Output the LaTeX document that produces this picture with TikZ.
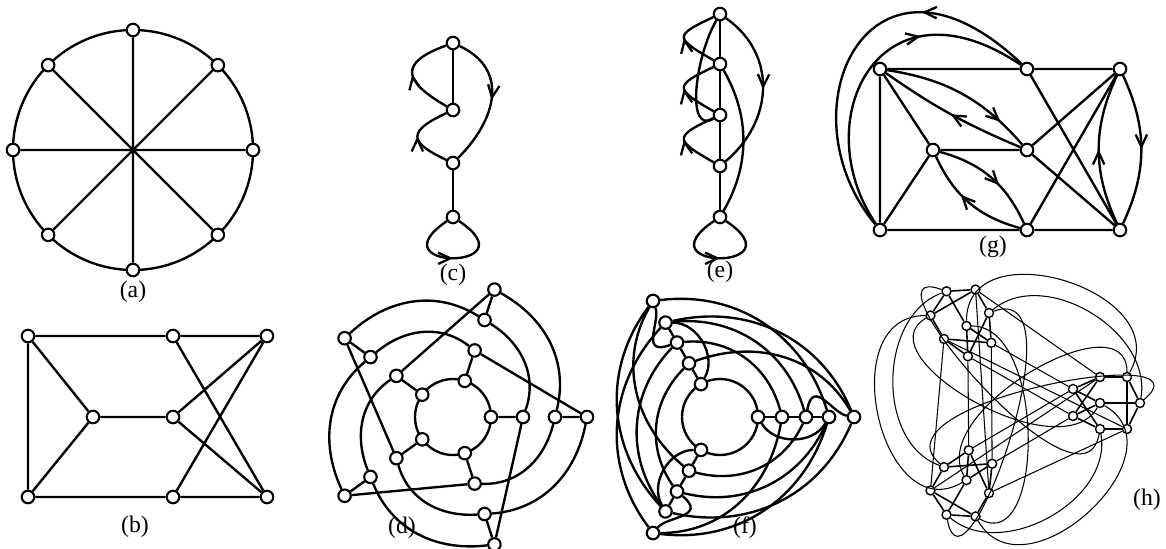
\documentclass[tikz,border=0pt]{standalone}
\usepackage{fontspec}
\setmainfont{Liberation Serif}
\usetikzlibrary{arrows.meta,decorations.markings}

\tikzset{
  vtx/.style={circle, draw, fill=white, line width=1.2pt, inner sep=0pt, minimum size=0.25cm},
  hvtx/.style={circle, draw, fill=white, line width=0.8pt, inner sep=0pt, minimum size=0.18cm},
  edge/.style={line width=1.35pt},
  hedge/.style={line width=0.9pt},
  hcurve/.style={line width=0.6pt},
  midarrow/.style={postaction={decorate}, decoration={markings,
      mark=at position #1 with {\arrow{Straight Barb[length=7pt,width=6.5pt,line width=1.3pt]}}}},
  midarrow/.default=0.5,
  caption/.style={font=\fontsize{13.5}{16}\selectfont}
}

\begin{document}
\begin{tikzpicture}[x=0.02cm, y=0.02cm]
  \useasboundingbox (0,0) rectangle (1166,-548);

  % (a)
  \begin{scope}[shift={(133,-150)}]
    \draw[edge] (0,0) circle (120);
    \foreach \a in {0,45,...,315}
      \node[vtx] (a\a) at (\a:120) {};
    \draw[edge] (a0) -- (a180) (a45) -- (a225) (a90) -- (a270) (a135) -- (a315);
  \end{scope}
  \node[caption] (capa) at (133,-292) {(a)};

  % (b)
  \node[vtx] (b1) at (28,-336) {};
  \node[vtx] (b2) at (173,-336) {};
  \node[vtx] (b3) at (267,-336) {};
  \node[vtx] (b4) at (93,-417) {};
  \node[vtx] (b5) at (173,-417) {};
  \node[vtx] (b6) at (28,-497) {};
  \node[vtx] (b7) at (173,-497) {};
  \node[vtx] (b8) at (267,-497) {};
  \draw[edge] (b1) -- (b2) -- (b3) (b6) -- (b7) -- (b8) (b1) -- (b6)
    (b1) -- (b4) -- (b6) (b4) -- (b5) (b5) -- (b3) (b5) -- (b8)
    (b2) -- (b8) (b7) -- (b3);
  \node[caption] (capb) at (135,-527) {(b)};

  % (c)
  \node[vtx] (c1) at (453,-43) {};
  \node[vtx] (c2) at (453,-110) {};
  \node[vtx] (c3) at (453,-163) {};
  \node[vtx] (c4) at (453,-217) {};
  \draw[edge] (c1) -- (c2) (c3) -- (c4);
  \draw[edge, midarrow] (c2) .. controls +(150:58) and +(200:58) .. (c1);
  \draw[edge, midarrow] (c3) .. controls +(155:50) and +(205:50) .. (c2);
  \draw[edge, midarrow] (c1) .. controls +(-25:62) and +(45:62) .. (c3);
  \draw[edge, midarrow] (c4) .. controls +(-146:96) and +(-34:96) .. (c4);
  \node[caption] (capc) at (453,-275) {(c)};

  % (e)
  \foreach \i/\y in {1/14,2/64,3/115,4/166,5/217}
    \node[vtx] (e\i) at (720,-\y) {};
  \draw[edge] (e1) -- (e2) -- (e3) -- (e4) -- (e5);
  \draw[edge, midarrow] (e2) .. controls +(150:52) and +(205:52) .. (e1);
  \draw[edge, midarrow] (e3) .. controls +(150:52) and +(205:52) .. (e2);
  \draw[edge, midarrow] (e4) .. controls +(150:52) and +(205:52) .. (e3);
  \draw[edge, midarrow] (e1) .. controls +(-35:70) and +(40:70) .. (e4);
  \draw[edge] (e1) .. controls +(-120:50) and +(-150:40) .. (e3);
  \draw[edge] (e2) .. controls +(-60:60) and +(60:60) .. (e5);
  \draw[edge, midarrow] (e5) .. controls +(-146:96) and +(-34:96) .. (e5);
  \node[caption] (cape) at (720,-272) {(e)};

  % (g)
  \node[vtx] (g1) at (880,-69) {};
  \node[vtx] (g2) at (1027,-69) {};
  \node[vtx] (g3) at (1120,-69) {};
  \node[vtx] (g4) at (933,-150) {};
  \node[vtx] (g5) at (1027,-150) {};
  \node[vtx] (g6) at (880,-230) {};
  \node[vtx] (g7) at (1027,-230) {};
  \node[vtx] (g8) at (1120,-230) {};
  \draw[edge] (g1) -- (g2) -- (g3) (g6) -- (g7) -- (g8) (g1) -- (g6)
    (g1) -- (g4) -- (g6) (g4) -- (g5) (g2) -- (g8) (g5) -- (g3)
    (g5) -- (g8) (g7) -- (g3);
  \draw[edge, midarrow=0.8] (g1) to[bend left=20] (g5);
  \draw[edge, midarrow] (g5) to[bend left=6] (g1);
  \draw[edge, midarrow=0.6] (g4) to[bend left=25] (g7);
  \draw[edge, midarrow=0.6] (g7) to[bend left=25] (g4);
  \draw[edge, midarrow] (g3) to[bend left=25] (g8);
  \draw[edge, midarrow] (g8) to[bend left=25] (g3);
  \draw[edge, midarrow=0.3] (g2) .. controls (870,80) and (780,-110) .. (g6);
  \draw[edge, midarrow=0.68] (g6) .. controls (805,-120) and (880,30) .. (g2);
  \node[caption] (capg) at (993,-247) {(g)};

  % (d)
  \begin{scope}[shift={(453,-417)}]
    \draw[edge] (0,0) circle (38);
    \foreach \k in {0,...,4}{
      \node[vtx] (d1\k) at (72*\k:38) {};
      \node[vtx] (d2\k) at (72*\k:70) {};
      \node[vtx] (d3\k) at (72*\k:102) {};
      \node[vtx] (d4\k) at (72*\k:134) {};
    }
    \foreach \k [evaluate=\k as \j using {int(mod(\k+4,5))}] in {0,...,4}{
      \draw[edge] (d1\k) -- (d2\k) (d3\k) -- (d4\k) (d2\k) -- (d4\j);
      \draw[edge] (d4\k) to[out=72*\k-101, in=72*\j+76] (d3\j);
      \draw[edge] (d3\k) to[out=72*\k-104, in=72*\j+70] (d2\j);
    }
  \end{scope}
  \node[caption] (capd) at (402,-528) {(d)};

  % (f)
  \begin{scope}[shift={(720,-417)}]
    \draw[edge] (0,0) circle (38);
    \foreach \k in {0,1,2}{
      \foreach \l/\r in {1/38,2/62,3/86,4/109,5/134}
        \node[vtx] (f\l\k) at (120*\k:\r) {};
    }
    \foreach \k [evaluate=\k as \a using {int(120*\k)},
                 evaluate=\k as \b using {int(120*\k+120)},
                 evaluate=\k as \j using {int(mod(\k+1,3))}] in {0,1,2}{
      \draw[edge] (f1\k) -- (f2\k) -- (f3\k) -- (f4\k);
      \draw[edge] (f1\k) to[out=\a-60, in=\a-120] (f4\k);
      \draw[edge] (f3\k) .. controls +(\a+80:40) and +(\a+170:22) .. (f5\k);
      \draw[edge] (f5\k) to[out=\a+113, in=\b-107] (f4\j);
      \draw[edge] (f4\k) to[out=\a+107, in=\b-113] (f5\j);
      \draw[edge] (f5\k) to[out=\a+120, in=\b-100] (f2\j);
      \draw[edge] (f3\k) to[out=\a+106, in=\b-114] (f4\j);
      \draw[edge] (f2\k) to[out=\a+105, in=\b-115] (f3\j);
    }
  \end{scope}
  \node[caption] (capf) at (745,-528) {(f)};

  % (h)
  \foreach \c/\rot in {0/0,1/120,2/240}{
    \begin{scope}[shift={(1011,-403)}, rotate=\rot]
      \node[hvtx] (h\c1) at (89,26) {};
      \node[hvtx] (h\c2) at (116,26) {};
      \node[hvtx] (h\c3) at (62,14) {};
      \node[hvtx] (h\c4) at (89,0) {};
      \node[hvtx] (h\c5) at (129,0) {};
      \node[hvtx] (h\c6) at (62,-13) {};
      \node[hvtx] (h\c7) at (89,-26) {};
      \node[hvtx] (h\c8) at (116,-26) {};
    \end{scope}
    \draw[hedge] (h\c1) -- (h\c2) -- (h\c5) -- (h\c8) -- (h\c7)
      (h\c2) -- (h\c8) (h\c4) -- (h\c5) (h\c1) -- (h\c3) (h\c1) -- (h\c6)
      (h\c3) -- (h\c7) (h\c7) -- (h\c6) (h\c4) -- (h\c3) (h\c4) -- (h\c6);
  }
  \foreach \c/\n/\r in {0/1/0,1/2/120,2/0/240}{
    \draw[hcurve] (h\c3) -- (h\n6) (h\c6) -- (h\n3)
                  (h\c8) -- (h\n1) (h\c1) -- (h\n8);
    \draw[hcurve] (h\c5) to[out=\r+80, in=\r+40] (h\n7);
    \draw[hcurve] (h\c2) to[out=\r+60, in=\r+90, looseness=1.4] (h\n4);
    \draw[hcurve] (h\c7) .. controls +(\r-100:100) and +(\r+160:100) .. (h\n5);
    \draw[hcurve] (h\c4) .. controls +(\r-120:80) and +(\r+210:80) .. (h\n2);
  }
  \node[caption] (caph) at (1147,-500) {(h)};
\end{tikzpicture}
\end{document}
